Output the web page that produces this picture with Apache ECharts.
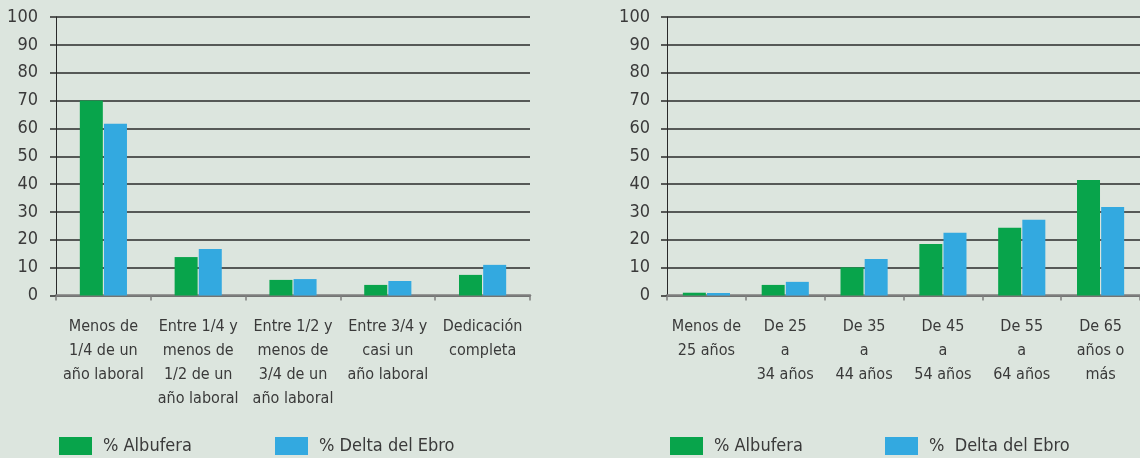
<!DOCTYPE html>
<html>
<head>
<meta charset="utf-8">
<script src="https://cdn.jsdelivr.net/npm/echarts@6/dist/echarts.min.js"></script>
<style>
  html, body { margin: 0; padding: 0; background: #dce5de; }
  #chart { width: 1140px; height: 458px; }
</style>
</head>
<body>
<div id="chart"></div>
<script>
// Dedicación laboral (panel izquierdo)
const dedicacionCategorias = [
  'Menos de\n1/4 de un\naño laboral',
  'Entre 1/4 y\nmenos de\n1/2 de un\naño laboral',
  'Entre 1/2 y\nmenos de\n3/4 de un\naño laboral',
  'Entre 3/4 y\ncasi un\naño laboral',
  'Dedicación\ncompleta'
];
const dedicacionAlbufera = [70.0, 13.8, 5.6, 3.8, 7.4];
const dedicacionDelta = [61.7, 16.7, 5.9, 5.2, 11.0];

// Grupos de edad (panel derecho)
const edadCategorias = [
  'Menos de\n25 años',
  'De 25\na\n34 años',
  'De 35\na\n44 años',
  'De 45\na\n54 años',
  'De 55\na\n64 años',
  'De 65\naños o\nmás'
];
const edadAlbufera = [1.0, 3.8, 10.1, 18.5, 24.3, 41.5];
const edadDelta = [0.9, 4.9, 13.1, 22.5, 27.2, 31.8];

const yTicks = { min: 0, max: 100, interval: 10 };

const FONT = "'Liberation Sans Narrow', 'DejaVu Sans Condensed', 'Arial Narrow', sans-serif";
const TEXT = '#3a3a3a';
const GREEN = '#08a44b';
const BLUE = '#33a9e0';

function yAxis(gridIndex, margin) {
  return {
    type: 'value', gridIndex, min: yTicks.min, max: yTicks.max, interval: yTicks.interval,
    axisLine: { show: true, lineStyle: { color: '#2a2a2a', width: 1 } },
    axisTick: { show: true, length: 6, lineStyle: { color: '#2a2a2a', width: 1.5 } },
    splitLine: { show: true, lineStyle: { color: '#2a2a2a', width: 1.5 } },
    axisLabel: { color: TEXT, fontFamily: FONT, fontSize: 18, margin }
  };
}
function xAxis(gridIndex, data) {
  return {
    type: 'category', gridIndex, data,
    axisLine: { show: true, lineStyle: { color: '#7d7d7d', width: 2.5 } },
    axisTick: { show: true, length: 5, lineStyle: { color: '#7d7d7d', width: 1.5 } },
    axisLabel: { color: TEXT, fontFamily: FONT, fontSize: 16, lineHeight: 24, interval: 0, margin: 19, align: 'center' }
  };
}
function bar(name, data, idx, color) {
  return {
    name, type: 'bar', data, xAxisIndex: idx, yAxisIndex: idx,
    barWidth: 23, barGap: '5%',
    itemStyle: { color },
    emphasis: { disabled: true }
  };
}
function legend(name, left) {
  return {
    data: [name], left, top: 437, padding: 0,
    itemWidth: 33, itemHeight: 18, icon: 'rect',
    selectedMode: false,
    textStyle: { color: TEXT, fontFamily: FONT, fontSize: 18, padding: [0, 0, 0, 6] }
  };
}

const chart = echarts.init(document.getElementById('chart'), null, { renderer: 'canvas' });
chart.setOption({
  backgroundColor: '#dce5de',
  animation: false,
  grid: [
    { left: 56, top: 17, width: 474, height: 278.5 },
    { left: 667, top: 17, width: 473, height: 278.5 }
  ],
  xAxis: [xAxis(0, dedicacionCategorias), xAxis(1, edadCategorias)],
  yAxis: [yAxis(0, 18), yAxis(1, 17)],
  legend: [
    legend('% Albufera', 59),
    legend('% Delta del Ebro', 275),
    legend('% Albufera', 670),
    legend('%  Delta del Ebro', 885)
  ],
  series: [
    bar('% Albufera', dedicacionAlbufera, 0, GREEN),
    bar('% Delta del Ebro', dedicacionDelta, 0, BLUE),
    bar('% Albufera', edadAlbufera, 1, GREEN),
    bar('%  Delta del Ebro', edadDelta, 1, BLUE)
  ]
});
</script>
</body>
</html>
